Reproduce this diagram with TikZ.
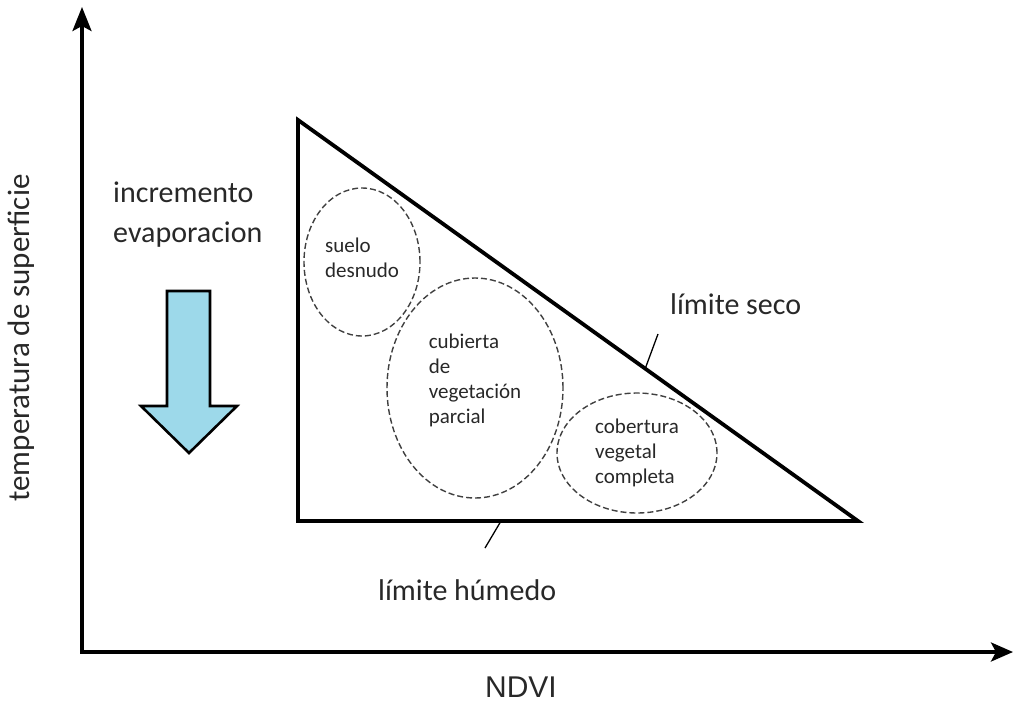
\documentclass[tikz,border=0pt]{standalone}
\usepackage{fontspec}
\setmainfont{Carlito}
\newfontfamily\arialfont{Liberation Sans}
\usetikzlibrary{arrows.meta,shapes.geometric,calc}
\definecolor{labelgray}{RGB}{40,40,40}
\definecolor{arrowblue}{RGB}{157,217,234}
\tikzset{
  axis/.style={line width=3.4pt,line join=miter,{Stealth[length=24pt,width=19pt,inset=5pt]}-{Stealth[length=22pt,width=19pt,inset=5pt]}},
  zone/.style={ellipse,draw=black!75,dash pattern=on 6pt off 3pt,line width=1.4pt,inner sep=0pt,align=left,
    font=\fontsize{21}{25}\selectfont,text=labelgray},
  biglabel/.style={font=\fontsize{30}{40}\selectfont,text=labelgray,inner sep=0pt},
  pointer/.style={line width=1.3pt},
}
\begin{document}
\begin{tikzpicture}[x=1pt,y=-1pt]
\useasboundingbox (0,0) rectangle (1013,702);
% axes
\coordinate (O) at (82,652);
\coordinate (ytop) at (82,7);
\coordinate (xend) at (1013,652);
\draw[axis] (ytop) -- (O) -- (xend);
\node[biglabel, rotate=90, font=\fontsize{31}{36}\selectfont] (temp) at (21,338) {temperatura de superficie};
\node[biglabel, anchor=base, font=\arialfont\fontsize{30}{36}\selectfont] (ndvi) at (521,697) {NDVI};

% triangle
\coordinate (A) at (298,120);
\coordinate (B) at (298,521);
\coordinate (C) at (858,521);
\draw[line width=3.8pt, line join=miter] (A) -- (B) -- (C) -- cycle;

% zones
\node[zone, minimum width=116pt, minimum height=148pt, text depth=8pt] (suelo) at (362,262) {suelo\\desnudo};
\node[zone, minimum width=176pt, minimum height=220pt, text depth=18pt] (parcial) at (475,388) {cubierta\\de\\vegetación\\parcial};
\node[zone, minimum width=160pt, minimum height=120pt] (completa) at (637,453) {cobertura\\vegetal\\completa};

% limits
\node[biglabel, anchor=base west] (seco) at (670,314) {límite seco};
\coordinate (seco tip) at ($(A)!0.62!(C)$);
\coordinate (seco end) at (658,334);
\draw[pointer] (seco tip) -- (seco end);
\node[biglabel, anchor=base west] (humedo) at (378,600) {límite húmedo};
\coordinate (humedo tip) at (501,521);
\coordinate (humedo end) at (485,548);
\draw[pointer] (humedo tip) -- (humedo end);

% evaporation arrow
\node[biglabel, anchor=north west, align=left] (evap) at (113,182) {incremento\\evaporacion};
\draw[line width=2.6pt, fill=arrowblue, line join=miter]
  (167,291) -- (210,291) -- (210,406) -- (237,406) -- (189,453) -- (141,406) -- (167,406) -- cycle;
\end{tikzpicture}
\end{document}
